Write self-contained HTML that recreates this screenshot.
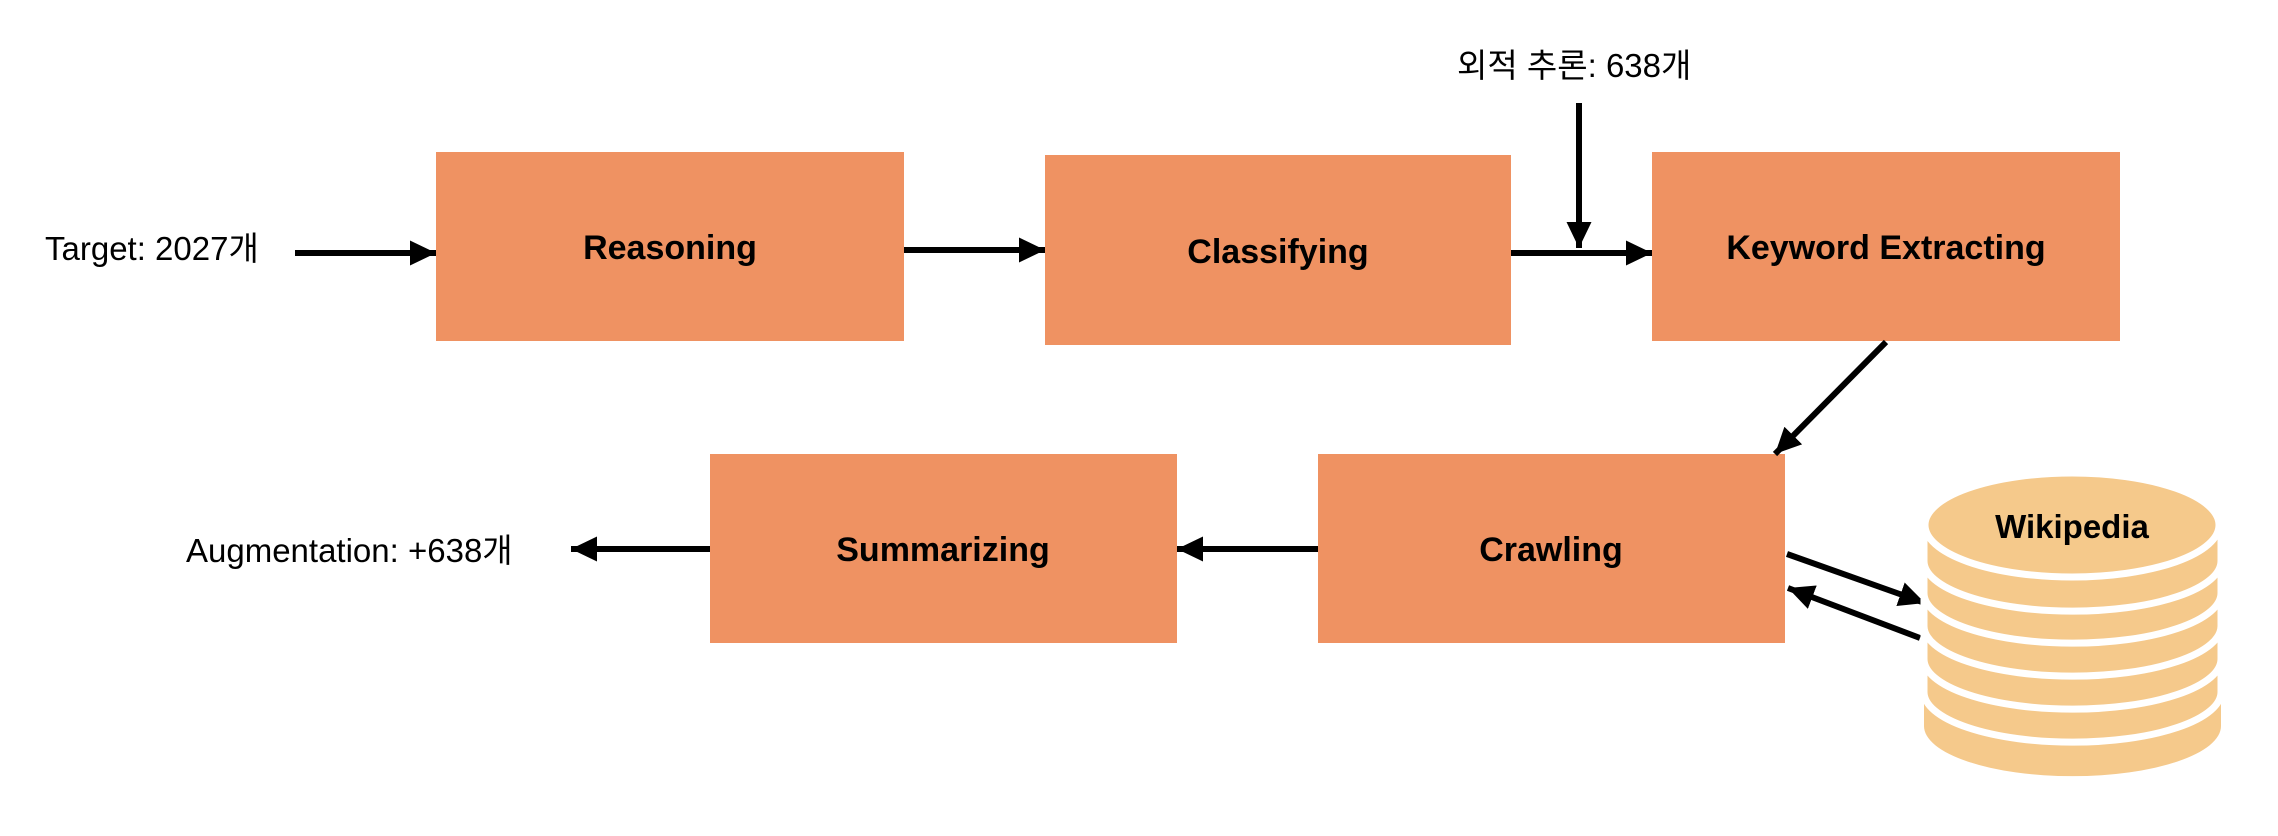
<!DOCTYPE html>
<html><head><meta charset="utf-8"><style>
html,body{margin:0;padding:0;background:#fff;}
svg{display:block;}
text{font-family:"Liberation Sans","Noto Sans CJK KR",sans-serif;}
</style></head><body>
<svg width="2278" height="836" viewBox="0 0 2278 836" xmlns="http://www.w3.org/2000/svg">
<defs>
<marker id="ah" markerWidth="26" markerHeight="25" refX="26" refY="12.5" orient="auto" markerUnits="userSpaceOnUse">
<path d="M0,0 L26,12.5 L0,25 Z" fill="#000"/>
</marker>
</defs>
<g fill="#EF9262">
<rect x="436" y="152" width="468" height="189"/>
<rect x="1045" y="155" width="466" height="190"/>
<rect x="1652" y="152" width="468" height="189"/>
<rect x="710" y="454" width="467" height="189"/>
<rect x="1318" y="454" width="467" height="189"/>
</g>
<g font-size="34" font-weight="bold" text-anchor="middle" fill="#000">
<text x="670" y="259">Reasoning</text>
<text x="1278" y="263">Classifying</text>
<text x="1886" y="259">Keyword Extracting</text>
<text x="943" y="561">Summarizing</text>
<text x="1551" y="561">Crawling</text>
</g>
<g font-size="33" fill="#000">
<text x="45" y="260">Target: 2027개</text>
<text x="1457" y="77">외적 추론: 638개</text>
<text x="186" y="562">Augmentation: +638개</text>
</g>
<g stroke="#000" stroke-width="6" fill="none" marker-end="url(#ah)">
<line x1="295" y1="253" x2="436" y2="253"/>
<line x1="904" y1="250" x2="1045" y2="250"/>
<line x1="1511" y1="253" x2="1652" y2="253"/>
<line x1="1579" y1="103" x2="1579" y2="248"/>
<line x1="1886" y1="342" x2="1775" y2="454"/>
<line x1="1318" y1="549" x2="1177" y2="549"/>
<line x1="710" y1="549" x2="571" y2="549"/>
<line x1="1787" y1="554" x2="1925" y2="603"/>
<line x1="1920" y1="638" x2="1788" y2="588"/>
</g>
<g fill="#F5C98B" stroke="#fff" stroke-width="7">
<path d="M1924,692 L1924,726 A148,50 0 0 0 2221,726 L2221,692 Z" stroke="none"/>
<path d="M1924,659 L1924,692 A148,50 0 0 0 2221,692 L2221,659"/>
<path d="M1924,626 L1924,659 A148,50 0 0 0 2221,659 L2221,626"/>
<path d="M1924,593 L1924,626 A148,50 0 0 0 2221,626 L2221,593"/>
<path d="M1924,561 L1924,593 A148,50 0 0 0 2221,593 L2221,561"/>
<path d="M1924,530 L1924,561 A148,50 0 0 0 2221,561 L2221,530"/>
<ellipse cx="2072" cy="525" rx="147" ry="52"/>
</g>
<text x="2072" y="538" font-size="33" font-weight="bold" text-anchor="middle" fill="#000">Wikipedia</text>
</svg>
</body></html>
